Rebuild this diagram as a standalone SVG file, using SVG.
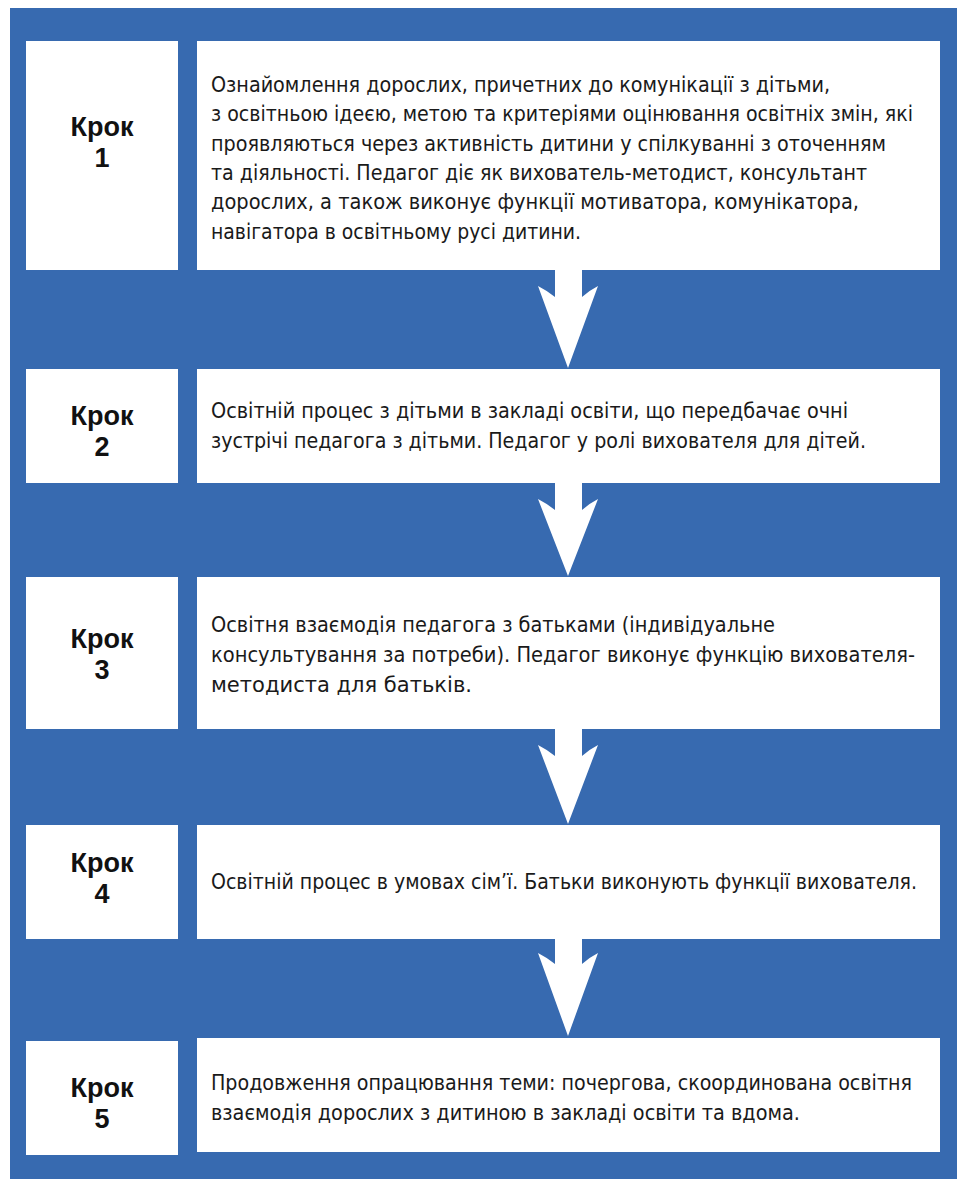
<svg xmlns="http://www.w3.org/2000/svg" width="957" height="1179" viewBox="0 0 957 1179">
<style>
.bg{fill:#376AB0}
.box{fill:#ffffff}
.step{font-family:"Liberation Sans",Arial,sans-serif;font-weight:bold;font-size:27px;fill:#111;text-anchor:middle}
.body{font-family:"DejaVu Sans Condensed","Liberation Sans Narrow","Roboto",sans-serif;font-stretch:condensed;font-size:21px;fill:#1a1a1a}
.arrow{fill:#ffffff}
</style>
<rect class="bg" x="10" y="8" width="947" height="1171"/>

<g id="connectors">
<path class="arrow" d="M555,270 L582,270 L582,297 Q590,290 598,286 L568,368 L538,286 Q546,290 555,297 Z"/>
<path class="arrow" d="M555,483 L582,483 L582,510 Q590,503 598,499 L568,576 L538,499 Q546,503 555,510 Z"/>
<path class="arrow" d="M555,729 L582,729 L582,756 Q590,749 598,745 L568,824 L538,745 Q546,749 555,756 Z"/>
<path class="arrow" d="M555,939 L582,939 L582,964 Q590,957 598,953 L568,1036 L538,953 Q546,957 555,964 Z"/>
</g>

<g id="step1">
<rect class="box" x="26" y="41" width="152" height="229"/>
<rect class="box" x="197" y="41" width="743" height="229"/>
<text class="step" x="102" y="136">Крок</text>
<text class="step" x="102" y="167">1</text>
<text class="body" x="211" y="92" textLength="619" lengthAdjust="spacingAndGlyphs">Ознайомлення дорослих, причетних до комунікації з дітьми,</text>
<text class="body" x="211" y="121.3" textLength="702" lengthAdjust="spacingAndGlyphs">з освітньою ідеєю, метою та критеріями оцінювання освітніх змін, які</text>
<text class="body" x="211" y="150.6" textLength="675" lengthAdjust="spacingAndGlyphs">проявляються через активність дитини у спілкуванні з оточенням</text>
<text class="body" x="211" y="180" textLength="656" lengthAdjust="spacingAndGlyphs">та діяльності. Педагог діє як вихователь-методист, консультант</text>
<text class="body" x="211" y="209.2" textLength="648" lengthAdjust="spacingAndGlyphs">дорослих, а також виконує функції мотиватора, комунікатора,</text>
<text class="body" x="211" y="238.5" textLength="370" lengthAdjust="spacingAndGlyphs">навігатора в освітньому русі дитини.</text>
</g>

<g id="step2">
<rect class="box" x="26" y="369" width="152" height="114"/>
<rect class="box" x="197" y="369" width="743" height="114"/>
<text class="step" x="102" y="425">Крок</text>
<text class="step" x="102" y="456">2</text>
<text class="body" x="211" y="418" textLength="637" lengthAdjust="spacingAndGlyphs">Освітній процес з дітьми в закладі освіти, що передбачає очні</text>
<text class="body" x="211" y="448" textLength="655" lengthAdjust="spacingAndGlyphs">зустрічі педагога з дітьми. Педагог у ролі вихователя для дітей.</text>
</g>

<g id="step3">
<rect class="box" x="26" y="577" width="152" height="152"/>
<rect class="box" x="197" y="577" width="743" height="152"/>
<text class="step" x="102" y="648">Крок</text>
<text class="step" x="102" y="679">3</text>
<text class="body" x="211" y="632" textLength="564" lengthAdjust="spacingAndGlyphs">Освітня взаємодія педагога з батьками (індивідуальне</text>
<text class="body" x="211" y="662" textLength="704" lengthAdjust="spacingAndGlyphs">консультування за потреби). Педагог виконує функцію вихователя-</text>
<text class="body" x="211" y="692" textLength="261" lengthAdjust="spacingAndGlyphs">методиста для батьків.</text>
</g>

<g id="step4">
<rect class="box" x="26" y="825" width="152" height="114"/>
<rect class="box" x="197" y="825" width="743" height="114"/>
<text class="step" x="102" y="872">Крок</text>
<text class="step" x="102" y="903">4</text>
<text class="body" x="211" y="889" textLength="706" lengthAdjust="spacingAndGlyphs">Освітній процес в умовах сім’ї. Батьки виконують функції вихователя.</text>
</g>

<g id="step5">
<rect class="box" x="26" y="1041" width="152" height="114"/>
<rect class="box" x="197" y="1038" width="743" height="114"/>
<text class="step" x="102" y="1097">Крок</text>
<text class="step" x="102" y="1128">5</text>
<text class="body" x="211" y="1090" textLength="701" lengthAdjust="spacingAndGlyphs">Продовження опрацювання теми: почергова, скоординована освітня</text>
<text class="body" x="211" y="1120" textLength="589" lengthAdjust="spacingAndGlyphs">взаємодія дорослих з дитиною в закладі освіти та вдома.</text>
</g>
</svg>
